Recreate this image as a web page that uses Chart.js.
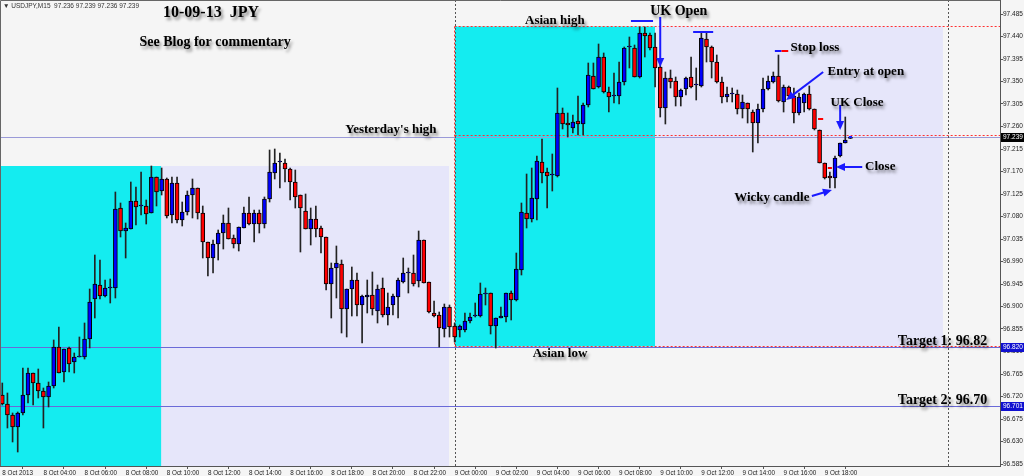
<!DOCTYPE html>
<html>
<head>
<meta charset="utf-8">
<script src="https://cdn.jsdelivr.net/npm/chart.js@4.4.1/dist/chart.umd.min.js"></script>
<style>
  html, body { margin: 0; padding: 0; background: #f5f5f5; }
  #wrap { width: 1024px; height: 476px; position: relative; }
</style>
</head>
<body>
<div id="wrap"><canvas id="chart"></canvas></div>
<script>
// USDJPY M15, 8 Oct 02:00 -> 9 Oct 19:15 (one value per candle)
const opens = [
  96.723, 96.705, 96.683, 96.659, 96.687, 96.723, 96.767, 96.747, 96.731, 96.719,
  96.741, 96.819, 96.769, 96.817, 96.789, 96.799, 96.799, 96.835, 96.915, 96.943,
  96.921, 96.937, 96.937, 97.097, 97.051, 97.055, 97.111, 97.101, 97.101, 97.087,
  97.159, 97.131, 97.155, 97.083, 97.147, 97.073, 97.089, 97.123, 97.137, 97.087,
  97.029, 96.997, 97.025, 97.047, 97.067, 97.037, 97.025, 97.057, 97.087, 97.065,
  97.087, 97.065, 97.115, 97.167, 97.189, 97.187, 97.175, 97.149, 97.123, 97.091,
  97.055, 97.075, 97.057, 97.039, 96.945, 96.977, 96.985, 96.895, 96.935, 96.953,
  96.903, 96.919, 96.923, 96.891, 96.937, 96.883, 96.903, 96.919, 96.949, 96.967,
  96.967, 96.951, 97.033, 96.949, 96.887, 96.883, 96.855, 96.899, 96.861, 96.853,
  96.853, 96.871, 96.881, 96.881, 96.925, 96.927, 96.861, 96.877, 96.879, 96.927,
  96.913, 96.973, 97.087, 97.075, 97.115, 97.189, 97.169, 97.163, 97.161, 97.287,
  97.267, 97.257, 97.271, 97.265, 97.303, 97.361, 97.339, 97.399, 97.329, 97.321,
  97.321, 97.349, 97.419, 97.417, 97.359, 97.447, 97.443, 97.419, 97.379, 97.297,
  97.357, 97.351, 97.319, 97.335, 97.359, 97.343, 97.341, 97.435, 97.419, 97.389,
  97.349, 97.319, 97.325, 97.325, 97.295, 97.307, 97.289, 97.267, 97.295, 97.335,
  97.349, 97.361, 97.309, 97.339, 97.321, 97.287, 97.307, 97.325, 97.295, 97.253,
  97.187, 97.161, 97.157, 97.201, 97.227, 97.236
];
const highs = [
  96.747, 96.727, 96.687, 96.689, 96.777, 96.777, 96.767, 96.775, 96.737, 96.749,
  96.833, 96.859, 96.815, 96.819, 96.807, 96.839, 96.867, 96.935, 97.003, 96.993,
  96.953, 96.955, 97.129, 97.107, 97.067, 97.149, 97.139, 97.169, 97.113, 97.181,
  97.159, 97.177, 97.157, 97.159, 97.159, 97.109, 97.131, 97.155, 97.137, 97.101,
  97.029, 97.033, 97.053, 97.083, 97.097, 97.043, 97.059, 97.099, 97.119, 97.093,
  97.093, 97.119, 97.213, 97.215, 97.207, 97.195, 97.177, 97.173, 97.123, 97.125,
  97.097, 97.101, 97.061, 97.039, 96.987, 97.021, 96.993, 96.935, 96.979, 96.967,
  96.923, 96.953, 96.969, 96.943, 96.957, 96.927, 96.925, 96.957, 96.997, 96.977,
  97.003, 97.051, 97.033, 96.949, 96.911, 96.889, 96.905, 96.903, 96.867, 96.863,
  96.887, 96.887, 96.907, 96.947, 96.937, 96.927, 96.877, 96.899, 96.927, 96.931,
  97.007, 97.107, 97.165, 97.177, 97.201, 97.235, 97.177, 97.205, 97.337, 97.297,
  97.287, 97.283, 97.321, 97.307, 97.387, 97.387, 97.425, 97.407, 97.339, 97.367,
  97.389, 97.419, 97.439, 97.423, 97.459, 97.459, 97.447, 97.447, 97.387, 97.369,
  97.373, 97.359, 97.335, 97.359, 97.399, 97.377, 97.447, 97.447, 97.421, 97.403,
  97.359, 97.339, 97.337, 97.333, 97.323, 97.307, 97.293, 97.305, 97.357, 97.361,
  97.369, 97.403, 97.343, 97.341, 97.337, 97.327, 97.327, 97.341, 97.295, 97.253,
  97.187, 97.169, 97.201, 97.227, 97.279, 97.239
];
const lows = [
  96.703, 96.657, 96.629, 96.609, 96.683, 96.707, 96.703, 96.717, 96.657, 96.699,
  96.737, 96.767, 96.749, 96.769, 96.767, 96.799, 96.795, 96.817, 96.877, 96.915,
  96.919, 96.907, 96.917, 97.039, 96.997, 97.055, 97.063, 97.083, 97.065, 97.087,
  97.101, 97.123, 97.077, 97.067, 97.067, 97.061, 97.083, 97.077, 97.075, 96.997,
  96.961, 96.967, 96.993, 97.015, 97.035, 97.017, 97.011, 97.057, 97.063, 97.029,
  97.047, 97.057, 97.109, 97.155, 97.137, 97.149, 97.113, 97.097, 97.009, 97.055,
  97.023, 97.039, 97.007, 96.933, 96.877, 96.917, 96.847, 96.839, 96.881, 96.881,
  96.827, 96.887, 96.883, 96.867, 96.879, 96.863, 96.883, 96.877, 96.947, 96.927,
  96.941, 96.939, 96.947, 96.887, 96.879, 96.819, 96.839, 96.839, 96.829, 96.839,
  96.849, 96.867, 96.879, 96.879, 96.903, 96.845, 96.817, 96.877, 96.869, 96.873,
  96.911, 96.963, 97.057, 97.069, 97.073, 97.147, 97.097, 97.131, 97.159, 97.255,
  97.239, 97.247, 97.243, 97.243, 97.299, 97.335, 97.337, 97.327, 97.289, 97.307,
  97.305, 97.343, 97.377, 97.359, 97.357, 97.399, 97.413, 97.339, 97.279, 97.265,
  97.337, 97.301, 97.301, 97.323, 97.337, 97.313, 97.339, 97.389, 97.357, 97.347,
  97.307, 97.309, 97.309, 97.285, 97.277, 97.267, 97.209, 97.227, 97.289, 97.333,
  97.347, 97.309, 97.289, 97.319, 97.267, 97.283, 97.289, 97.293, 97.253, 97.187,
  97.155, 97.137, 97.137, 97.199, 97.227, 97.236
];
const closes = [
  96.705, 96.683, 96.659, 96.687, 96.723, 96.767, 96.747, 96.731, 96.719, 96.741,
  96.819, 96.767, 96.815, 96.785, 96.799, 96.801, 96.835, 96.909, 96.945, 96.921,
  96.937, 96.939, 97.095, 97.051, 97.057, 97.111, 97.099, 97.101, 97.085, 97.159,
  97.129, 97.155, 97.081, 97.147, 97.073, 97.089, 97.123, 97.137, 97.087, 97.029,
  96.997, 97.025, 97.047, 97.067, 97.035, 97.025, 97.059, 97.087, 97.065, 97.087,
  97.065, 97.115, 97.169, 97.187, 97.189, 97.175, 97.149, 97.119, 97.097, 97.055,
  97.075, 97.055, 97.039, 96.945, 96.977, 96.987, 96.895, 96.935, 96.953, 96.903,
  96.921, 96.923, 96.895, 96.935, 96.883, 96.899, 96.921, 96.953, 96.967, 96.967,
  96.945, 97.033, 96.947, 96.889, 96.881, 96.857, 96.899, 96.859, 96.839, 96.861,
  96.871, 96.879, 96.881, 96.925, 96.925, 96.861, 96.877, 96.881, 96.927, 96.913,
  96.975, 97.089, 97.075, 97.117, 97.191, 97.167, 97.161, 97.163, 97.287, 97.265,
  97.263, 97.269, 97.265, 97.303, 97.363, 97.335, 97.399, 97.329, 97.319, 97.321,
  97.349, 97.417, 97.419, 97.359, 97.447, 97.441, 97.417, 97.377, 97.297, 97.357,
  97.349, 97.319, 97.333, 97.357, 97.339, 97.343, 97.437, 97.419, 97.389, 97.349,
  97.319, 97.325, 97.325, 97.295, 97.309, 97.295, 97.267, 97.295, 97.335, 97.351,
  97.361, 97.311, 97.339, 97.321, 97.287, 97.319, 97.325, 97.295, 97.255, 97.187,
  97.157, 97.157, 97.197, 97.227, 97.233, 97.239
];

// axis ticks
const xTickIdx = [0, 8, 16, 24, 32, 40, 48, 56, 64, 72, 80, 88, 96, 104, 112, 120, 128, 136, 144, 152, 160];
const xTickLabels = [
  '8 Oct 2013', '8 Oct 04:00', '8 Oct 06:00', '8 Oct 08:00', '8 Oct 10:00', '8 Oct 12:00',
  '8 Oct 14:00', '8 Oct 16:00', '8 Oct 18:00', '8 Oct 20:00', '8 Oct 22:00', '9 Oct 00:00',
  '9 Oct 02:00', '9 Oct 04:00', '9 Oct 06:00', '9 Oct 08:00', '9 Oct 10:00', '9 Oct 12:00',
  '9 Oct 14:00', '9 Oct 16:00', '9 Oct 18:00'
];
const yTicks = [
  96.585, 96.630, 96.675, 96.720, 96.765, 96.810, 96.855, 96.900, 96.945, 96.990, 97.035,
  97.080, 97.125, 97.170, 97.215, 97.260, 97.305, 97.350, 97.395, 97.440, 97.485
];

// levels
const bidPrice = 97.239;
const asianHigh = 97.460;
const asianLow = 96.820;
const target2 = 96.701;
const prevBoxTop = 97.181;
const ydayHighLine = 97.242;

const CYAN = '#14ecf0';
const LAVENDER = '#e6e6fa';
const BULL = '#0000ff';
const BEAR = '#ff0000';
const ARROW = '#1a1aff';

const idx = opens.map((_, i) => i);

// boxes: [x0, x1, yTop, yBottom, colour] in index / price units
const boxes = [
  [-1, 86.9, prevBoxTop, 96.50, LAVENDER],
  [-1, 30.9, prevBoxTop, 96.50, CYAN],
  [88.07, 127, asianHigh, asianLow, CYAN],
  [127, 183, asianHigh, asianLow, LAVENDER]
];

// text annotations: [text, idx, price, align, size]
const notes = [
  ['10-09-13  JPY', 40.6, 97.487, 'center', 16],
  ['See Blog for commentary', 41.4, 97.429, 'center', 14],
  ["Yesterday's high", 75.6, 97.253, 'center', 13],
  ['Asian high', 107.5, 97.472, 'center', 13],
  ['UK Open', 131.6, 97.491, 'center', 14],
  ['Stop loss', 158.1, 97.418, 'center', 13],
  ['Entry at open', 168.0, 97.370, 'center', 13],
  ['UK Close', 166.3, 97.308, 'center', 13],
  ['Close', 170.8, 97.180, 'center', 13],
  ['Wicky candle', 149.7, 97.118, 'center', 13],
  ['Asian low', 108.5, 96.806, 'center', 13],
  ['Target 1: 96.82', 191.6, 96.830, 'right', 14],
  ['Target 2: 96.70', 191.6, 96.712, 'right', 14]
];

// arrows: [fromIdx, fromPrice, toIdx, toPrice]
const arrows = [
  [128.0, 97.479, 128.0, 97.379],
  [159.7, 97.369, 152.5, 97.313],
  [163.0, 97.303, 163.0, 97.253],
  [167.3, 97.179, 162.2, 97.179],
  [157.5, 97.121, 161.4, 97.133]
];

// short markers: [idx0, idx1, price, colour]
const marks = [
  [122.3, 126.6, 97.472, ARROW],
  [134.4, 138.3, 97.450, ARROW],
  [150.3, 151.6, 97.411, ARROW],
  [151.6, 152.9, 97.411, BEAR],
  [158.7, 159.7, 97.275, BEAR],
  [160.6, 161.4, 97.177, BEAR],
  [164.7, 165.3, 97.239, ARROW]
];

const overlay = {
  id: 'overlay',
  beforeDraw(chart) {
    const c = chart.ctx;
    c.save();
    c.fillStyle = '#f5f5f5';
    c.fillRect(0, 0, chart.width, chart.height);
    c.restore();
  },
  beforeDatasetsDraw(chart) {
    const c = chart.ctx, x = chart.scales.x, y = chart.scales.y, a = chart.chartArea;
    c.save();
    c.beginPath();
    c.rect(a.left, a.top, a.right - a.left, a.bottom - a.top);
    c.clip();
    boxes.forEach(b => {
      const x0 = x.getPixelForValue(b[0]), x1 = x.getPixelForValue(b[1]);
      const y0 = y.getPixelForValue(b[2]), y1 = y.getPixelForValue(b[3]);
      c.fillStyle = b[4];
      c.fillRect(x0, y0, x1 - x0, y1 - y0);
    });
    // full width lines
    c.lineWidth = 1;
    [[bidPrice, '#9a9ad8'], [asianLow, '#6a6ad8'], [target2, '#6a6ad8']].forEach(l => {
      const py = Math.round(y.getPixelForValue(l[0])) + 0.5;
      c.strokeStyle = l[1];
      c.beginPath(); c.moveTo(a.left, py); c.lineTo(a.right, py); c.stroke();
    });
    // day separators
    c.setLineDash([2, 2]);
    c.strokeStyle = '#555';
    [88, 184].forEach(v => {
      const px = Math.round(x.getPixelForValue(v)) + 0.5;
      c.beginPath(); c.moveTo(px, a.top); c.lineTo(px, a.bottom); c.stroke();
    });
    // red dotted levels
    c.strokeStyle = '#ff3030';
    const xs = x.getPixelForValue(88);
    [asianHigh, ydayHighLine, asianLow].forEach(v => {
      const py = Math.round(y.getPixelForValue(v)) - 0.5;
      c.beginPath(); c.moveTo(xs, py); c.lineTo(a.right, py); c.stroke();
    });
    const xr = Math.round(xs) - 0.5;
    c.beginPath(); c.moveTo(xr, y.getPixelForValue(asianHigh)); c.lineTo(xr, y.getPixelForValue(asianLow)); c.stroke();
    c.setLineDash([]);
    c.restore();
  },
  afterDatasetsDraw(chart) {
    const c = chart.ctx, x = chart.scales.x, y = chart.scales.y, a = chart.chartArea;
    c.save();
    // short markers
    c.lineWidth = 2;
    marks.forEach(m => {
      const py = Math.round(y.getPixelForValue(m[2]));
      c.strokeStyle = m[3];
      c.beginPath(); c.moveTo(x.getPixelForValue(m[0]), py); c.lineTo(x.getPixelForValue(m[1]), py); c.stroke();
    });
    // arrows
    c.strokeStyle = ARROW; c.fillStyle = ARROW; c.lineWidth = 2;
    arrows.forEach(r => {
      const x1 = x.getPixelForValue(r[0]), y1 = y.getPixelForValue(r[1]);
      const x2 = x.getPixelForValue(r[2]), y2 = y.getPixelForValue(r[3]);
      const ang = Math.atan2(y2 - y1, x2 - x1);
      c.beginPath(); c.moveTo(x1, y1); c.lineTo(x2 - 6 * Math.cos(ang), y2 - 6 * Math.sin(ang)); c.stroke();
      c.beginPath();
      c.moveTo(x2, y2);
      c.lineTo(x2 - 9 * Math.cos(ang) + 4 * Math.sin(ang), y2 - 9 * Math.sin(ang) - 4 * Math.cos(ang));
      c.lineTo(x2 - 9 * Math.cos(ang) - 4 * Math.sin(ang), y2 - 9 * Math.sin(ang) + 4 * Math.cos(ang));
      c.closePath(); c.fill();
    });
    // text
    c.textBaseline = 'middle';
    c.fillStyle = '#000';
    c.shadowColor = 'rgba(0,0,0,0.45)';
    c.shadowBlur = 3; c.shadowOffsetX = 2; c.shadowOffsetY = 3;
    notes.forEach(n => {
      c.font = 'bold ' + n[4] + 'px "Liberation Serif", serif';
      c.textAlign = n[3];
      c.fillText(n[0], x.getPixelForValue(n[1]), y.getPixelForValue(n[2]));
    });
    c.shadowColor = 'transparent';
    // header
    c.font = '6.5px "Liberation Sans", sans-serif';
    c.textAlign = 'left';
    c.fillStyle = '#333';
    c.fillText('\u25BC USDJPY,M15  ' + opens[opens.length - 1].toFixed(3) + ' ' + highs[highs.length - 1].toFixed(3) + ' ' +
      lows[lows.length - 1].toFixed(3) + ' ' + closes[closes.length - 1].toFixed(3), 3, 6);
    // frame
    c.strokeStyle = '#666'; c.lineWidth = 1;
    c.beginPath(); c.moveTo(a.left + 0.5, a.bottom); c.lineTo(a.left + 0.5, a.top + 0.5); c.lineTo(a.right, a.top + 0.5); c.stroke();
    // price labels on axis
    c.font = '6.5px "Liberation Sans", sans-serif';
    c.textBaseline = 'middle';
    [[bidPrice, '#000'], [asianLow, '#1010d0'], [target2, '#1010d0']].forEach(l => {
      const py = Math.round(y.getPixelForValue(l[0]));
      c.fillStyle = l[1];
      c.fillRect(a.right + 1, py - 4, 23, 9);
      c.fillStyle = '#fff';
      c.fillText(l[0].toFixed(3), a.right + 3, py + 0.5);
    });
    c.restore();
  }
};

new Chart(document.getElementById('chart'), {
  type: 'bar',
  data: {
    datasets: [
      {
        label: 'body',
        data: idx.map(i => ({ x: i, y: [opens[i], closes[i]] })),
        backgroundColor: idx.map(i => closes[i] >= opens[i] ? BULL : BEAR),
        borderColor: '#000',
        borderWidth: 1,
        borderSkipped: false,
        barThickness: 4,
        minBarLength: 1,
        grouped: false,
        order: 0
      },
      {
        label: 'wick',
        data: idx.map(i => ({ x: i, y: [lows[i], highs[i]] })),
        backgroundColor: '#222',
        barThickness: 1,
        grouped: false,
        order: 1
      }
    ]
  },
  options: {
    responsive: true,
    maintainAspectRatio: false,
    animation: false,
    layout: { padding: 0 },
    plugins: { legend: { display: false }, tooltip: { enabled: false } },
    scales: {
      x: {
        type: 'linear',
        offset: false,
        min: -0.447,
        max: 194.1,
        afterBuildTicks: s => { s.ticks = xTickIdx.map(v => ({ value: v })); },
        afterFit: s => { s.height = 10; s.paddingLeft = 0; s.paddingRight = 0; },
        grid: { drawOnChartArea: false, tickLength: 3, color: '#555' },
        border: { display: true, color: '#555' },
        ticks: {
          autoSkip: false, maxRotation: 0, minRotation: 0, align: 'start', padding: 0,
          color: '#222', font: { family: 'Liberation Sans', size: 6.3 },
          callback: (v, i) => xTickLabels[i]
        }
      },
      y: {
        position: 'right',
        min: 96.581,
        max: 97.513,
        afterBuildTicks: s => { s.ticks = yTicks.map(v => ({ value: v })); },
        afterFit: s => { s.width = 24; s.paddingTop = 0; s.paddingBottom = 0; },
        grid: { drawOnChartArea: false, tickLength: 3, color: '#555' },
        border: { display: true, color: '#555' },
        ticks: {
          padding: 0, color: '#222', font: { family: 'Liberation Sans', size: 6.5 },
          callback: v => Number(v).toFixed(3)
        }
      }
    }
  },
  plugins: [overlay]
});
</script>
</body>
</html>
